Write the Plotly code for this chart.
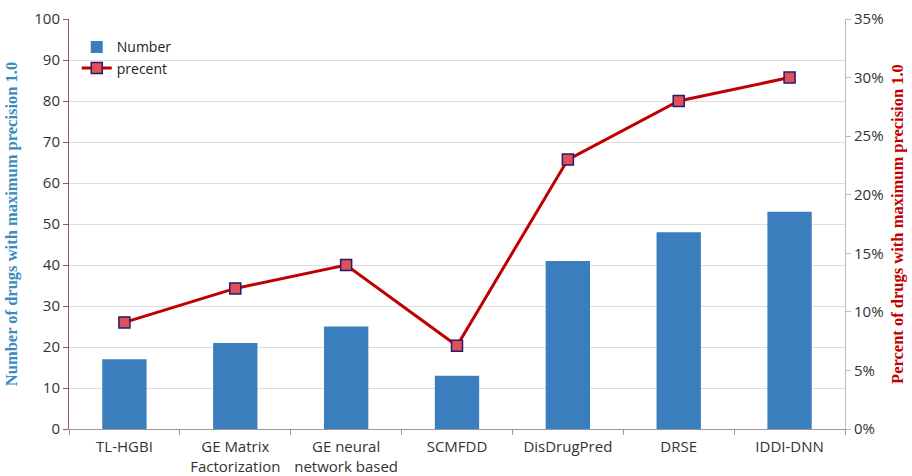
import plotly.graph_objects as go

categories = ["TL-HGBI", "GE Matrix<br>Factorization", "GE neural<br>network based",
              "SCMFDD", "DisDrugPred", "DRSE", "IDDI-DNN"]
numbers = [17, 21, 25, 13, 41, 48, 53]
percent = [9.1, 12.0, 14.0, 7.1, 23.0, 28.0, 30.0]
left_ticks = list(range(0, 101, 10))
right_ticks = list(range(0, 36, 5))
right_labels = [f"{v}%" for v in right_ticks]

fig = go.Figure()
fig.add_trace(go.Bar(x=categories, y=numbers, name="Number",
                     marker=dict(color="#3A7EBD", line=dict(width=0)),
                     width=0.4))
fig.add_trace(go.Scatter(x=categories, y=percent, name="precent", yaxis="y2",
                         mode="lines+markers",
                         line=dict(color="#C00000", width=3),
                         marker=dict(symbol="square", size=11, color="#E0505A",
                                     line=dict(color="#2A1A6A", width=1.5))))

tickfont = dict(family="Open Sans, Liberation Sans, sans-serif", size=15, color="#333333")
fig.update_layout(
    width=912, height=476,
    margin=dict(l=69, r=67, t=19, b=47),
    paper_bgcolor="white", plot_bgcolor="white",
    showlegend=True,
    legend=dict(x=0.01, y=0.97, xanchor="left", yanchor="top",
                font=dict(family="Open Sans, Liberation Sans, sans-serif", size=14, color="#222222"),
                bgcolor="rgba(0,0,0,0)", tracegroupgap=10),
    xaxis=dict(type="category", tickfont=dict(family="Open Sans, Liberation Sans, sans-serif", size=15, color="#333333"),
               tickangle=0, automargin=False, showgrid=False, ticklabelstandoff=4,
               showline=True, linecolor="#999999", linewidth=1,
               ticks="outside", tickson="boundaries", ticklen=5, tickcolor="#999999"),
    yaxis=dict(range=[0, 100], tickvals=left_ticks, tickfont=tickfont, automargin=False,
               showgrid=True, gridcolor="#DDDDDD", gridwidth=1,
               showline=True, linecolor="#8C5A6A", linewidth=1,
               ticks="outside", ticklen=5, tickcolor="#8C5A6A", zeroline=False,
               title=dict(text="<b>Number of drugs with maximum precision 1.0</b>",
                          font=dict(family="Liberation Serif, Times New Roman, serif", size=16.5,
                                    color="#3A8BC0"), standoff=12)),
    yaxis2=dict(range=[0, 35], tickvals=right_ticks, ticktext=right_labels, automargin=False,
                overlaying="y", side="right", tickfont=tickfont,
                showgrid=False, showline=True, linecolor="#BBBBBB", linewidth=1,
                ticks="outside", ticklen=5, tickcolor="#BBBBBB", zeroline=False,
                title=dict(text="<b>Percent of drugs with maximum precision 1.0</b>",
                           font=dict(family="Liberation Serif, Times New Roman, serif", size=16.5,
                                     color="#C00000"), standoff=8)),
    bargap=0.6,
)
fig.write_html("out.html")
